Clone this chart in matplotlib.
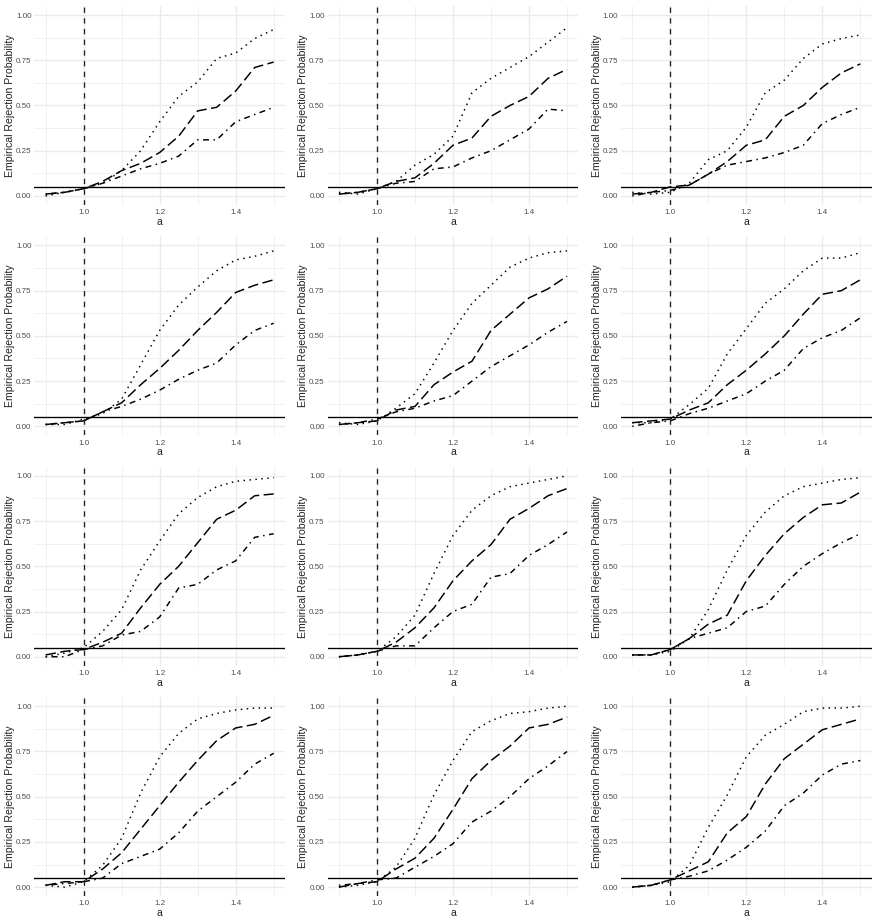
import numpy as np
import matplotlib.pyplot as plt

# ------------------------------------------------------------------
# DATA (12 pannelli, 3 serie ciascuno)
# ------------------------------------------------------------------
a_vals = [0.90, 0.95, 1.00, 1.05, 1.10, 1.15, 1.20, 1.25, 1.30, 1.35, 1.40, 1.45, 1.50]

dotted = [
    [0.00, 0.02, 0.04, 0.07, 0.14, 0.25, 0.41, 0.55, 0.63, 0.76, 0.79, 0.87, 0.92],
    [0.02, 0.01, 0.04, 0.08, 0.17, 0.23, 0.33, 0.57, 0.65, 0.71, 0.77, 0.85, 0.93],
    [0.02, 0.01, 0.02, 0.07, 0.20, 0.25, 0.38, 0.57, 0.64, 0.76, 0.84, 0.87, 0.89],
    [0.01, 0.01, 0.04, 0.07, 0.15, 0.34, 0.53, 0.67, 0.77, 0.86, 0.92, 0.94, 0.97],
    [0.02, 0.01, 0.03, 0.10, 0.18, 0.35, 0.53, 0.68, 0.78, 0.88, 0.93, 0.96, 0.97],
    [0.02, 0.02, 0.04, 0.12, 0.21, 0.40, 0.54, 0.68, 0.76, 0.86, 0.93, 0.93, 0.96],
    [0.00, 0.02, 0.05, 0.14, 0.26, 0.48, 0.64, 0.79, 0.88, 0.94, 0.97, 0.98, 0.99],
    [0.00, 0.01, 0.03, 0.11, 0.23, 0.46, 0.67, 0.81, 0.89, 0.94, 0.96, 0.98, 1.00],
    [0.01, 0.01, 0.03, 0.10, 0.26, 0.48, 0.67, 0.80, 0.89, 0.94, 0.96, 0.98, 0.99],
    [0.01, 0.00, 0.03, 0.12, 0.27, 0.52, 0.72, 0.85, 0.93, 0.96, 0.98, 0.99, 0.99],
    [0.00, 0.01, 0.03, 0.11, 0.27, 0.51, 0.70, 0.86, 0.92, 0.96, 0.97, 0.99, 1.00],
    [0.00, 0.01, 0.03, 0.12, 0.33, 0.51, 0.72, 0.84, 0.90, 0.97, 0.99, 0.99, 1.00],
]

longdash = [
    [0.01, 0.02, 0.04, 0.08, 0.14, 0.18, 0.24, 0.33, 0.47, 0.49, 0.58, 0.71, 0.74],
    [0.01, 0.02, 0.04, 0.08, 0.10, 0.18, 0.28, 0.32, 0.44, 0.50, 0.55, 0.65, 0.70],
    [0.01, 0.02, 0.05, 0.06, 0.12, 0.19, 0.28, 0.31, 0.44, 0.50, 0.60, 0.68, 0.73],
    [0.01, 0.02, 0.03, 0.08, 0.13, 0.23, 0.32, 0.42, 0.53, 0.63, 0.74, 0.78, 0.81],
    [0.01, 0.02, 0.03, 0.09, 0.11, 0.23, 0.30, 0.36, 0.53, 0.62, 0.71, 0.76, 0.83],
    [0.02, 0.03, 0.04, 0.09, 0.13, 0.23, 0.31, 0.40, 0.50, 0.62, 0.73, 0.75, 0.81],
    [0.01, 0.03, 0.04, 0.08, 0.13, 0.27, 0.40, 0.50, 0.63, 0.76, 0.81, 0.89, 0.90],
    [0.00, 0.01, 0.03, 0.08, 0.16, 0.27, 0.42, 0.53, 0.62, 0.76, 0.82, 0.89, 0.93],
    [0.01, 0.01, 0.04, 0.10, 0.18, 0.23, 0.42, 0.56, 0.68, 0.77, 0.84, 0.85, 0.91],
    [0.01, 0.03, 0.03, 0.10, 0.19, 0.32, 0.45, 0.58, 0.70, 0.81, 0.88, 0.90, 0.95],
    [0.00, 0.02, 0.03, 0.10, 0.16, 0.27, 0.43, 0.60, 0.70, 0.78, 0.88, 0.90, 0.94],
    [0.00, 0.01, 0.04, 0.09, 0.14, 0.30, 0.39, 0.57, 0.71, 0.79, 0.87, 0.90, 0.93],
]

dotdash = [
    [0.01, 0.02, 0.04, 0.07, 0.11, 0.15, 0.18, 0.22, 0.31, 0.31, 0.41, 0.45, 0.49],
    [0.01, 0.02, 0.04, 0.07, 0.08, 0.15, 0.16, 0.21, 0.25, 0.31, 0.37, 0.48, 0.47],
    [0.00, 0.02, 0.03, 0.06, 0.12, 0.17, 0.19, 0.21, 0.24, 0.28, 0.40, 0.45, 0.49],
    [0.01, 0.02, 0.03, 0.08, 0.11, 0.15, 0.20, 0.26, 0.31, 0.35, 0.45, 0.53, 0.57],
    [0.01, 0.02, 0.04, 0.08, 0.10, 0.14, 0.17, 0.25, 0.33, 0.39, 0.45, 0.52, 0.58],
    [0.00, 0.02, 0.03, 0.07, 0.10, 0.14, 0.18, 0.25, 0.31, 0.43, 0.49, 0.53, 0.60],
    [0.00, 0.00, 0.04, 0.06, 0.12, 0.14, 0.22, 0.38, 0.40, 0.48, 0.53, 0.66, 0.68],
    [0.00, 0.01, 0.03, 0.06, 0.06, 0.16, 0.25, 0.29, 0.44, 0.46, 0.56, 0.62, 0.69],
    [0.01, 0.01, 0.04, 0.10, 0.13, 0.16, 0.25, 0.28, 0.40, 0.50, 0.57, 0.63, 0.68],
    [0.01, 0.02, 0.03, 0.05, 0.13, 0.17, 0.21, 0.30, 0.42, 0.50, 0.58, 0.68, 0.74],
    [0.01, 0.02, 0.04, 0.05, 0.11, 0.17, 0.24, 0.36, 0.42, 0.50, 0.60, 0.67, 0.75],
    [0.00, 0.01, 0.04, 0.06, 0.09, 0.15, 0.22, 0.31, 0.45, 0.52, 0.62, 0.68, 0.70],
]

alpha_level = 0.05   # linea orizzontale
a_null = 1.0         # linea verticale

x_major = [1.0, 1.2, 1.4]
x_minor = [0.9, 1.1, 1.3, 1.5]
y_major = [0.0, 0.25, 0.5, 0.75, 1.0]
y_minor = [0.125, 0.375, 0.625, 0.875]

# ------------------------------------------------------------------
# GRAFICO
# ------------------------------------------------------------------
plt.rcParams['font.family'] = ['Liberation Sans', 'DejaVu Sans']

fig, axes = plt.subplots(4, 3, figsize=(8.77, 9.22), dpi=100)
fig.subplots_adjust(left=0.039, right=0.994, top=0.9935, bottom=0.028,
                    wspace=0.169, hspace=0.158)

lw = 1.07
for i, ax in enumerate(axes.flat):
    x = np.array(a_vals)
    ax.plot(x, dotted[i], color="black", lw=lw, dashes=(1, 3))
    ax.plot(x, longdash[i], color="black", lw=lw, dashes=(7, 3))
    ax.plot(x, dotdash[i], color="black", lw=lw, dashes=(1, 3, 4, 3))
    ax.axhline(alpha_level, color="black", lw=lw * 0.9)
    ax.axvline(a_null, color="#222222", lw=lw * 0.9, dashes=(4, 4))

    ax.set_xlim(0.87, 1.53)
    ax.set_ylim(-0.05, 1.05)
    ax.set_xticks(x_major)
    ax.set_xticks(x_minor, minor=True)
    ax.set_yticks(y_major)
    ax.set_yticks(y_minor, minor=True)
    ax.set_xticklabels(["1.0", "1.2", "1.4"])
    ax.set_yticklabels(["0.00", "0.25", "0.50", "0.75", "1.00"])
    ax.grid(True, which="major", color="#EBEBEB", lw=1.0)
    ax.grid(True, which="minor", color="#EBEBEB", lw=0.5)
    ax.set_axisbelow(True)
    for s in ax.spines.values():
        s.set_visible(False)
    ax.tick_params(which="both", length=0, labelsize=5.8, labelcolor="#4D4D4D")
    ax.tick_params(axis="x", pad=3)
    ax.tick_params(axis="y", pad=2)
    ax.set_xlabel("a", fontsize=7.5, labelpad=0.5, color="#222222")
    ax.set_ylabel("Empirical Rejection Probability", fontsize=7.6, color="#222222")
    ax.yaxis.set_label_coords(-0.076, 0.5)

plt.savefig("out.png", dpi=100)
